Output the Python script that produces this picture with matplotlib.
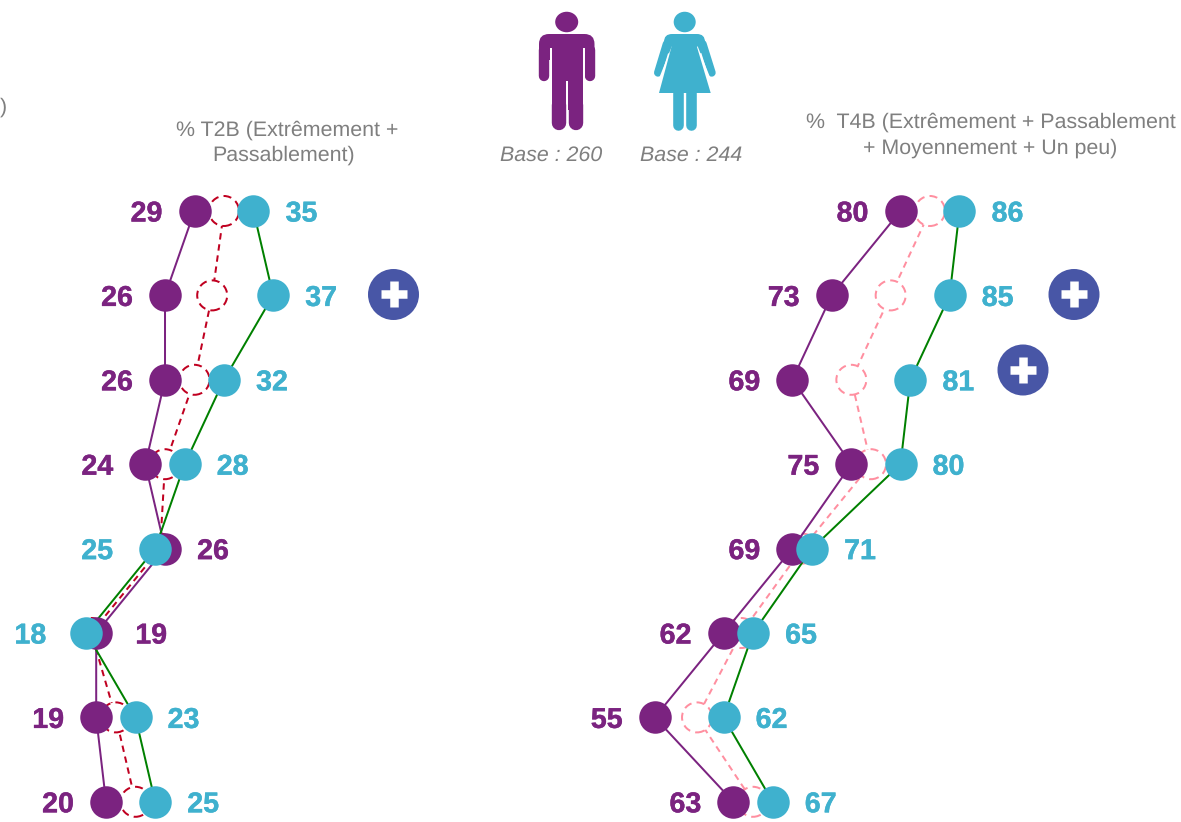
import matplotlib
matplotlib.use('Agg')
import matplotlib.pyplot as plt
import matplotlib.patheffects as pe
from matplotlib.patches import Polygon, FancyBboxPatch, Ellipse

plt.rcParams['font.family'] = ['Liberation Sans', 'DejaVu Sans']
plt.rcParams['text.hinting'] = 'no_hinting'

rows = [0, 1, 2, 3, 4, 5, 6, 7]

t2b_men = [29, 26, 26, 24, 26, 19, 19, 20]
t2b_women = [35, 37, 32, 28, 25, 18, 23, 25]
t2b_total = [32, 30.8, 29, 26, 25.5, 18.5, 21, 23]

t4b_men = [80, 73, 69, 75, 69, 62, 55, 63]
t4b_women = [86, 85, 81, 80, 71, 65, 62, 67]
t4b_total = [83, 79, 75, 77, 70, 63.8, 59.3, 65]

PURPLE = '#7B2380'
TEAL = '#3FB1CE'
GREEN = '#008000'
BADGE = '#4856A6'
GREY = '#7F7F7F'

W, H = 1181, 822
PX_PER_UNIT = 9.83
ROW_STEP = 84.4
ROW0_Y = 211
px = 72 / 100  # one pixel in points

fig = plt.figure(figsize=(W / 100, H / 100), dpi=100)


def panel(men, women, total, x0_value, x0_pixel, dash_color):
    # axes covers the whole figure, limits set so one value unit = PX_PER_UNIT
    ax = fig.add_axes([0, 0, 1, 1])
    ax.set_xlim(x0_value - x0_pixel / PX_PER_UNIT, x0_value + (W - x0_pixel) / PX_PER_UNIT)
    ax.set_ylim((H - ROW0_Y) / ROW_STEP, -ROW0_Y / ROW_STEP)
    ax.axis('off')
    ax.patch.set_alpha(0)

    ax.plot(total, rows, color=dash_color, lw=2 * px, ls=(0, (3.2, 2.4)), zorder=2)
    ax.scatter(total, rows, s=(30 * px) ** 2, facecolors='white', edgecolors=dash_color,
               linewidths=2 * px, linestyles=(0, (4, 2.6)), zorder=2.5)
    ax.plot(men, rows, color=PURPLE, lw=2 * px, zorder=3)
    ax.plot(women, rows, color=GREEN, lw=2 * px, zorder=3)
    ax.plot(men, rows, ls='', marker='o', ms=32.5 * px, color=PURPLE, mew=0, zorder=4)
    ax.plot(women, rows, ls='', marker='o', ms=32.5 * px, color=TEAL, mew=0, zorder=5)

    for r, m, f in zip(rows, men, women):
        if m <= f:
            m_off, f_off = -48, 48
        else:
            # women are left of men on these rows, labels swap sides
            m_off, f_off = (48, -58) if m > 20 else (55, -56)
        ax.annotate(str(m), (m, r), xytext=(m_off * px, -3 * px), textcoords='offset points',
                    ha='center', va='center', color=PURPLE, fontsize=20.6, fontweight='bold',
                    path_effects=[pe.withStroke(linewidth=0.3, foreground=PURPLE)])
        ax.annotate(str(f), (f, r), xytext=(f_off * px, -3 * px), textcoords='offset points',
                    ha='center', va='center', color=TEAL, fontsize=20.6, fontweight='bold',
                    path_effects=[pe.withStroke(linewidth=0.3, foreground=TEAL)])


panel(t2b_men, t2b_women, t2b_total, 29, 194.5, '#C00020')
panel(t4b_men, t4b_women, t4b_total, 80, 900.5, '#FF8FA0')

# overlay in pixel coordinates for titles, icons and plus badges
top = fig.add_axes([0, 0, 1, 1])
top.set_xlim(0, W)
top.set_ylim(H, 0)
top.axis('off')
top.patch.set_alpha(0)

top.text(0, 107, ')', color=GREY, fontsize=15.4, ha='left', va='center')
top.text(287, 130, '% T2B (Extrêmement +', color=GREY, fontsize=15.4, ha='center', va='center')
top.text(284, 155, 'Passablement)', color=GREY, fontsize=15.4, ha='center', va='center')
top.text(991, 122, '%  T4B (Extrêmement + Passablement', color=GREY, fontsize=15.4, ha='center', va='center')
top.text(990, 148, '+ Moyennement + Un peu)', color=GREY, fontsize=15.4, ha='center', va='center')
top.text(551, 155, 'Base : 260', color=GREY, fontsize=15.4, style='italic', ha='center', va='center')
top.text(691, 155, 'Base : 244', color=GREY, fontsize=15.4, style='italic', ha='center', va='center')

for bx, by in [(393.5, 294.5), (1074, 294.5), (1023, 370)]:
    top.add_patch(Ellipse((bx, by), 51, 51, color=BADGE, lw=0, zorder=6))
    top.plot([bx - 13, bx + 13], [by, by], color='white', lw=8.5 * px, solid_capstyle='butt', zorder=7)
    top.plot([bx, bx], [by - 13, by + 13], color='white', lw=8.5 * px, solid_capstyle='butt', zorder=7)


def stroke(xs, ys, width, color):
    top.plot(xs, ys, color=color, lw=width * px, solid_capstyle='round', zorder=8)


# man
top.add_patch(Ellipse((566.7, 22), 23, 20.5, color=PURPLE, lw=0, zorder=8))
top.add_patch(FancyBboxPatch((549, 44), 35.5, 6, boxstyle='round,pad=10,rounding_size=10',
                             color=PURPLE, lw=0, zorder=8))
top.add_patch(Polygon([(551.7, 50), (582.7, 50), (582.7, 81), (551.7, 81)], color=PURPLE, lw=0, zorder=9.5))
stroke([544.2, 544.2], [50, 76], 10.4, PURPLE)
stroke([589.5, 589.5], [50, 76], 10.4, PURPLE)
top.plot([550.6, 550.6], [49, 82], color='white', lw=2 * px, zorder=9)
top.plot([583.8, 583.8], [49, 82], color='white', lw=2 * px, zorder=9)
top.add_patch(Polygon([(551.7, 80), (566, 80), (566, 110), (551.7, 110)], color=PURPLE, lw=0, zorder=8))
top.add_patch(Polygon([(568.3, 80), (582.7, 80), (582.7, 110), (568.3, 110)], color=PURPLE, lw=0, zorder=8))
stroke([558.9, 558.9], [105, 122.8], 14.4, PURPLE)
stroke([575.5, 575.5], [105, 122.8], 14.4, PURPLE)

# woman
top.add_patch(Ellipse((684.7, 22), 22, 20.5, color=TEAL, lw=0, zorder=8))
top.add_patch(FancyBboxPatch((672, 42), 25, 4, boxstyle='round,pad=8,rounding_size=8',
                             color=TEAL, lw=0, zorder=8))
stroke([666.7, 658], [44, 72.7], 8, TEAL)
stroke([702.7, 711.7], [44, 72.7], 8, TEAL)
top.plot([672.5, 660.5], [48, 78], color='white', lw=2.5 * px, zorder=9)
top.plot([697, 709], [48, 78], color='white', lw=2.5 * px, zorder=9)
top.add_patch(Polygon([(671.7, 46), (696.7, 46), (710.7, 93), (659, 93)], color=TEAL, lw=0, zorder=10))
stroke([678, 678], [93, 124.7], 10.6, TEAL)
stroke([691.3, 691.3], [93, 124.7], 10.6, TEAL)

fig.savefig('out.png', dpi=100, facecolor='white')
